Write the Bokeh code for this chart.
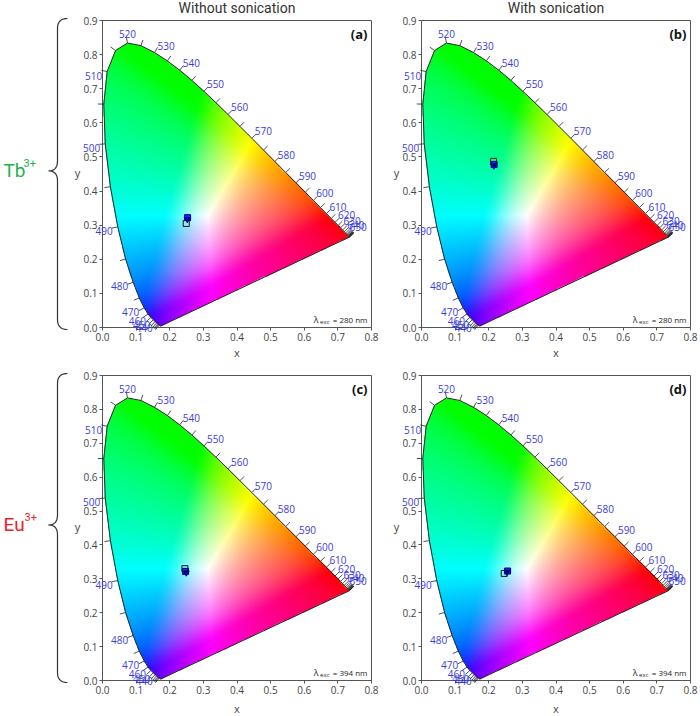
import numpy as np
from bokeh.plotting import figure
from bokeh.models import Range1d, FixedTicker, PrintfTickFormatter, ColumnDataSource
from bokeh.layouts import gridplot
from bokeh.embed import file_html
from bokeh.resources import INLINE
from bokeh.core.properties import value

# ---------------- data ----------------
# CIE 1931 2-degree spectral locus (wavelength nm, x, y)
wavelengths = [380, 385, 390, 395, 400, 405, 410, 415, 420, 425, 430, 435, 440, 445, 450, 455,
               460, 465, 470, 475, 480, 485, 490, 495, 500, 505, 510, 515, 520, 525, 530, 535,
               540, 545, 550, 555, 560, 565, 570, 575, 580, 585, 590, 595, 600, 605, 610, 615,
               620, 625, 630, 635, 640, 645, 650, 655, 660, 665, 670, 675, 680, 685, 690, 695, 700]
locus_x = [0.1741, 0.1740, 0.1738, 0.1736, 0.1733, 0.1730, 0.1726, 0.1721, 0.1714, 0.1703, 0.1689,
           0.1669, 0.1644, 0.1611, 0.1566, 0.1510, 0.1440, 0.1355, 0.1241, 0.1096, 0.0913, 0.0687,
           0.0454, 0.0235, 0.0082, 0.0039, 0.0139, 0.0389, 0.0743, 0.1142, 0.1547, 0.1929, 0.2296,
           0.2658, 0.3016, 0.3373, 0.3731, 0.4087, 0.4441, 0.4788, 0.5125, 0.5448, 0.5752, 0.6029,
           0.6270, 0.6482, 0.6658, 0.6801, 0.6915, 0.7006, 0.7079, 0.7140, 0.7190, 0.7230, 0.7260,
           0.7283, 0.7300, 0.7311, 0.7320, 0.7327, 0.7334, 0.7340, 0.7344, 0.7346, 0.7347]
locus_y = [0.0050, 0.0050, 0.0049, 0.0049, 0.0048, 0.0048, 0.0048, 0.0048, 0.0051, 0.0058, 0.0069,
           0.0086, 0.0109, 0.0138, 0.0177, 0.0227, 0.0297, 0.0399, 0.0578, 0.0868, 0.1327, 0.2007,
           0.2950, 0.4127, 0.5384, 0.6548, 0.7502, 0.8120, 0.8338, 0.8262, 0.8059, 0.7816, 0.7543,
           0.7243, 0.6923, 0.6589, 0.6245, 0.5896, 0.5547, 0.5202, 0.4866, 0.4544, 0.4242, 0.3965,
           0.3725, 0.3514, 0.3340, 0.3197, 0.3083, 0.2993, 0.2920, 0.2859, 0.2809, 0.2770, 0.2740,
           0.2717, 0.2700, 0.2689, 0.2680, 0.2673, 0.2666, 0.2660, 0.2656, 0.2654, 0.2653]
tick_min_wl = 430
label_wl = [440, 450, 460, 470, 480, 490, 500, 510, 520, 530, 540, 550, 560, 570, 580, 590,
            600, 610, 620, 630, 640, 650]

axis_ticks_x = [0.0, 0.1, 0.2, 0.3, 0.4, 0.5, 0.6, 0.7, 0.8]
axis_ticks_y = [0.0, 0.1, 0.2, 0.3, 0.4, 0.5, 0.6, 0.7, 0.8, 0.9]

col_titles = ["Without sonication", "With sonication"]
row_labels = ["Tb", "Eu"]
row_label_colors = ["#22b14c", "#ed1c24"]
panel_tags = ["(a)", "(b)", "(c)", "(d)"]
excitation = ["280", "280", "394", "394"]

# chromaticity points of the samples
a_x = [0.253, 0.252, 0.249]
a_y = [0.322, 0.317, 0.305]
b_x = [0.216, 0.215, 0.214]
b_y = [0.478, 0.474, 0.487]
c_x = [0.247, 0.249, 0.245]
c_y = [0.322, 0.318, 0.330]
d_x = [0.256, 0.254, 0.246]
d_y = [0.323, 0.320, 0.316]
point_markers = ["square", "inverted_triangle", "square"]
point_fill = ["#2020ff", "#0000b0", None]
point_line = ["#000080", "#0000b0", "#111111"]

# ---------------- CIE colour field ----------------
XMAX, YMAX = 0.8, 0.9
NX, NY = 540, 620
gx = (np.arange(NX) + 0.5) / NX * XMAX
gy = (np.arange(NY) + 0.5) / NY * YMAX
GX, GY = np.meshgrid(gx, gy)

vx = np.array(locus_x)
vy = np.array(locus_y)


def inside(px, py, polx, poly):
    res = np.zeros(px.shape, dtype=bool)
    n = len(polx)
    j = n - 1
    for i in range(n):
        xi, yi, xj, yj = polx[i], poly[i], polx[j], poly[j]
        if yi != yj:
            cond = ((yi > py) != (yj > py)) & (px < (xj - xi) * (py - yi) / (yj - yi) + xi)
            res ^= cond
        j = i
    return res


def blur(a, sigma, axis):
    r = int(3 * sigma)
    k = np.exp(-0.5 * (np.arange(-r, r + 1) / sigma) ** 2)
    k /= k.sum()
    pad = [(0, 0)] * a.ndim
    pad[axis] = (r, r)
    ap = np.pad(a, pad, mode="edge")
    out = np.zeros_like(a)
    n = a.shape[axis]
    for i, kv in enumerate(k):
        sl = [slice(None)] * a.ndim
        sl[axis] = slice(i, i + n)
        out += kv * ap[tuple(sl)]
    return out


mask = inside(GX, GY, vx, vy)
Xc = GX / GY
Yc = np.ones_like(GX)
Zc = (1 - GX - GY) / GY
M = np.array([[3.2406, -1.5372, -0.4986],
              [-0.9689, 1.8758, 0.0415],
              [0.0557, -0.2040, 1.0570]])
rgb = np.einsum("ij,jab->iab", M, np.stack([Xc, Yc, Zc]))
rgb = np.clip(rgb, 0, None)
rgb = rgb / np.maximum(rgb.max(axis=0, keepdims=True), 1e-9)
rgb = blur(blur(rgb, 13, 1), 13, 2)
rgb = rgb / np.maximum(rgb.max(axis=0, keepdims=True), 1e-9)
rgb = np.where(rgb <= 0.0031308, 12.92 * rgb, 1.055 * np.power(rgb, 1 / 2.4) - 0.055)
rgb = np.clip(rgb, 0, 1)
img = np.zeros((NY, NX), dtype=np.uint32)
view = img.view(dtype=np.uint8).reshape((NY, NX, 4))
view[:, :, 0] = (rgb[0] * 255).astype(np.uint8)
view[:, :, 1] = (rgb[1] * 255).astype(np.uint8)
view[:, :, 2] = (rgb[2] * 255).astype(np.uint8)
view[:, :, 3] = np.where(mask, 255, 0).astype(np.uint8)

FONT = value("Open Sans")
LABEL_BLUE = "#3b3bdc"


def make_panel(idx, px_x, px_y, bl, br, bt, bb, frame_w, frame_h):
    w = bl + br + frame_w
    h = bt + bb + frame_h
    p = figure(width=w, height=h, x_range=Range1d(0, XMAX), y_range=Range1d(0, YMAX),
               output_backend="svg", toolbar_location=None, title=None,
               min_border_left=bl, min_border_right=br, min_border_top=bt, min_border_bottom=bb)
    sx = frame_w / XMAX
    sy = frame_h / YMAX
    p.xgrid.visible = False
    p.ygrid.visible = False
    p.outline_line_color = "#555555"
    p.outline_line_width = 1
    p.background_fill_color = "white"
    p.border_fill_color = "white"
    p.xaxis.ticker = FixedTicker(ticks=axis_ticks_x)
    p.yaxis.ticker = FixedTicker(ticks=axis_ticks_y)
    for ax in (p.xaxis, p.yaxis):
        ax.formatter = PrintfTickFormatter(format="%.1f")
        ax.major_label_text_font = "Open Sans"
        ax.major_label_text_font_size = "10px"
        ax.major_label_text_color = "#444444"
        ax.major_tick_out = 3
        ax.major_tick_in = 0
        ax.minor_tick_out = 0
        ax.minor_tick_in = 0
        ax.axis_line_color = "#555555"
        ax.major_tick_line_color = "#555555"
        ax.major_label_standoff = 2

    # colour field
    p.image_rgba(image=[img], x=0, y=0, dw=XMAX, dh=YMAX)

    # locus outline (closed with purple line)
    p.line(list(vx) + [vx[0]], list(vy) + [vy[0]], line_color="#222222", line_width=1)

    # wavelength ticks
    X = vx * sx
    Y = vy * sy
    tx = np.gradient(X)
    ty = np.gradient(Y)
    nn = np.hypot(tx, ty)
    tx, ty = tx / nn, ty / nn
    nxv, nyv = -ty, tx
    L = 6.0
    sel = [i for i, w_ in enumerate(wavelengths) if w_ >= tick_min_wl]
    p.segment(x0=[vx[i] for i in sel], y0=[vy[i] for i in sel],
              x1=[vx[i] + nxv[i] * L / sx for i in sel],
              y1=[vy[i] + nyv[i] * L / sy for i in sel],
              line_color="#222222", line_width=0.8, level="overlay")

    # wavelength labels
    li = [wavelengths.index(w_) for w_ in label_wl]
    left_i = [i for i in li if wavelengths[i] <= 510]
    mid_i = [i for i in li if wavelengths[i] == 520]
    right_i = [i for i in li if wavelengths[i] >= 530]
    common = dict(text_font=FONT, text_font_size="10px", text_color=LABEL_BLUE,
                  text_baseline="middle", level="overlay")
    p.text(x=[vx[i] for i in left_i], y=[vy[i] for i in left_i],
           text=[str(wavelengths[i]) for i in left_i], text_align="right",
           x_offset=-5, y_offset=4, **common)
    p.text(x=[vx[i] for i in mid_i], y=[vy[i] for i in mid_i],
           text=[str(wavelengths[i]) for i in mid_i], text_align="center",
           x_offset=0, y_offset=-9, **common)
    p.text(x=[vx[i] for i in right_i], y=[vy[i] for i in right_i],
           text=[str(wavelengths[i]) for i in right_i], text_align="left",
           x_offset=3, y_offset=-7, **common)

    # sample points
    src = ColumnDataSource(dict(x=px_x, y=px_y, marker=point_markers,
                                fill=point_fill, line=point_line))
    p.scatter(x="x", y="y", marker="marker", size=6, fill_color="fill",
              line_color="line", line_width=1, source=src)

    # panel tag
    p.text(x=[XMAX], y=[YMAX], text=[panel_tags[idx]], text_font=FONT, text_font_size="13px",
           text_font_style="bold", text_color="#111111", text_align="right",
           text_baseline="middle", x_offset=-4, y_offset=13, level="overlay")

    # excitation label
    base = dict(text_baseline="middle", text_align="right", text_color="#222222",
                text_font=FONT, level="overlay")
    p.text(x=[XMAX], y=[0], text=["= " + excitation[idx] + " nm"], text_font_size="8px",
           x_offset=-4, y_offset=-8, **base)
    p.text(x=[XMAX], y=[0], text=["exc"], text_font_size="6px",
           x_offset=-42, y_offset=-6, **base)
    p.text(x=[XMAX], y=[0], text=["λ"], text_font_size="9px",
           x_offset=-53, y_offset=-8, **base)

    # axis labels
    p.text(x=[XMAX / 2], y=[0], text=["x"], text_font=FONT, text_font_size="11px",
           text_color="#444444", text_align="center", text_baseline="middle",
           y_offset=25 if idx < 2 else 28, level="overlay")
    p.text(x=[0], y=[YMAX / 2], text=["y"], text_font=FONT, text_font_size="11px",
           text_color="#444444", text_align="center", text_baseline="middle",
           x_offset=-25, y_offset=-2, level="overlay")

    # column titles
    if idx < 2:
        p.text(x=[XMAX / 2], y=[YMAX], text=[col_titles[idx]], text_font=value("Roboto"),
               text_font_size="14px", text_color="#333333", text_align="center",
               text_baseline="middle", y_offset=-13, level="overlay")

    # row label + brace on left panels
    if idx in (0, 2):
        r = 0 if idx == 0 else 1
        ymid_px = frame_h * 0.49

        def qb(p0, p1, p2, n=12):
            t = np.linspace(0, 1, n)
            return ((1 - t) ** 2 * p0[0] + 2 * (1 - t) * t * p1[0] + t ** 2 * p2[0],
                    (1 - t) ** 2 * p0[1] + 2 * (1 - t) * t * p1[1] + t ** 2 * p2[1])
        xv_, tp, bt_ = -45.0, -2.0, frame_h + 2.0
        segs = [qb((-35, tp), (xv_, tp), (xv_, tp + 10)),
                qb((xv_, ymid_px - 10), (xv_, ymid_px), (-54, ymid_px)),
                qb((-54, ymid_px), (xv_, ymid_px), (xv_, ymid_px + 10)),
                qb((xv_, bt_ - 10), (xv_, bt_), (-35, bt_))]
        bx = np.concatenate([s[0] for s in segs])
        by = np.concatenate([s[1] for s in segs])
        p.line(bx / sx, YMAX - by / sy, line_color="#333333", line_width=1.2, level="overlay")
        ymid = YMAX - ymid_px / sy
        p.text(x=[0], y=[ymid], text=[row_labels[r]], text_font=value("Roboto"),
               text_font_size="19px", text_color=row_label_colors[r], text_align="left",
               text_baseline="middle", x_offset=-99, y_offset=0, level="overlay")
        p.text(x=[0], y=[ymid], text=["3+"], text_font=value("Roboto"),
               text_font_size="11px", text_color=row_label_colors[r], text_align="left",
               text_baseline="middle", x_offset=-99 + (20 if r == 0 else 21), y_offset=-8,
               level="overlay")
    return p


pa = make_panel(0, a_x, a_y, 102, 10, 20, 34, 269, 307)
pb = make_panel(1, b_x, b_y, 40, 10, 20, 34, 269, 307)
pc = make_panel(2, c_x, c_y, 102, 10, 14, 36, 269, 305)
pd = make_panel(3, d_x, d_y, 40, 10, 14, 36, 269, 305)

grid = gridplot([[pa, pb], [pc, pd]], toolbar_location=None)
open("out.html", "w").write(file_html(grid, INLINE))
